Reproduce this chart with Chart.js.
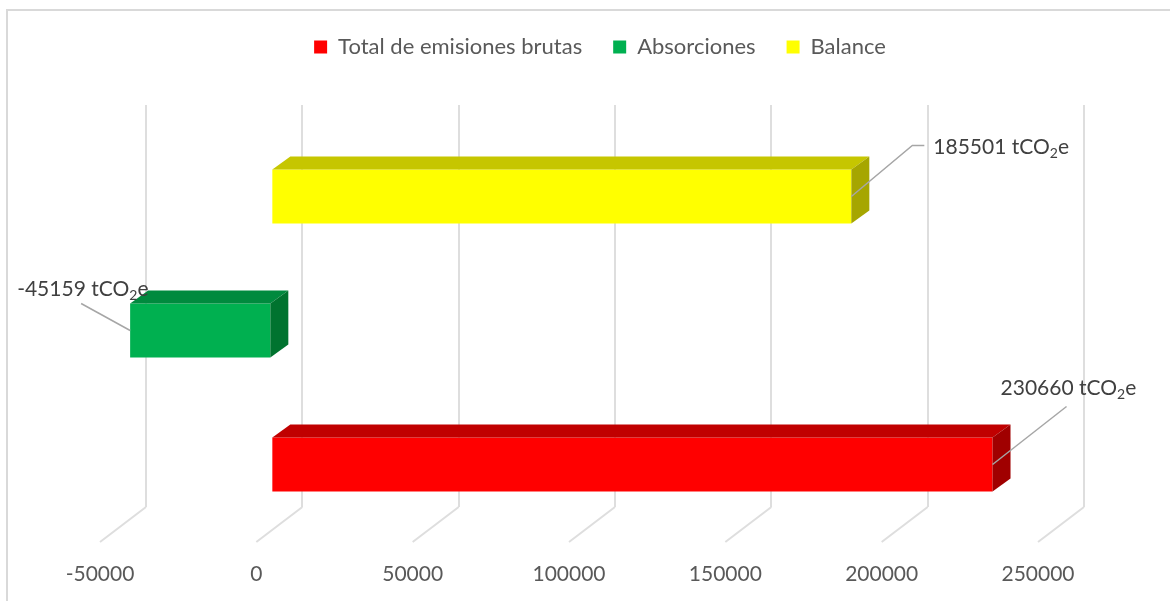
<!DOCTYPE html>
<html>
<head>
<meta charset="utf-8">
<script src="https://cdn.jsdelivr.net/npm/chart.js@4.4.1/dist/chart.umd.min.js"></script>
<style>
  html, body { margin: 0; padding: 0; background: #fff; }
  #wrap { width: 1170px; height: 601px; position: relative; }
</style>
</head>
<body>
<div id="wrap"><canvas id="chart"></canvas></div>
<script>
const seriesNames = ['Total de emisiones brutas', 'Absorciones', 'Balance'];
const seriesValues = [230660, -45159, 185501];
const tickValues = [-50000, 0, 50000, 100000, 150000, 200000, 250000];
const unitMain = 'tCO';
const unitSub = '2';
const unitEnd = 'e';

const frontColors = ['#ff0000', '#00b050', '#ffff00'];
const topColors = ['#c00000', '#008a3e', '#c6c600'];
const sideColors = ['#a00000', '#00732f', '#a6a600'];

// fake 3D: bars sit in front of the back wall, floor lines run to the front edge
const front = { dx: -31, dy: 24.5 };
const depth = { dx: 18, dy: -13 };
const floor = { dx: -46, dy: 35 };

// label placement relative to the bar end (leader points, text left/middle)
const labelPos = [
    { leader: [[74, -58]], text: [8, -76] },
    { leader: [[-49, -27]], text: [-113, -41] },
    { leader: [[61, -51], [73, -51]], text: [82, -49] }
];

const labelFont = '21px Lato';
const subFont = '14px Lato';

function drawValueLabel(ctx, x, y, value) {
    const main = value + ' ' + unitMain;
    ctx.fillStyle = '#404040';
    ctx.textAlign = 'left';
    ctx.textBaseline = 'middle';
    ctx.font = labelFont;
    ctx.fillText(main, x, y);
    let w = ctx.measureText(main).width;
    ctx.font = subFont;
    ctx.fillText(unitSub, x + w, y + 6);
    w += ctx.measureText(unitSub).width;
    ctx.font = labelFont;
    ctx.fillText(unitEnd, x + w, y);
}

// push the chart area down below the legend
const legendGap = {
    id: 'legendGap',
    beforeInit(chart) {
        const fit = chart.legend.fit;
        chart.legend.fit = function () {
            fit.call(this);
            this.height += 37;
        };
    }
};

const frame = {
    id: 'frame',
    beforeDraw(chart) {
        const ctx = chart.ctx;
        ctx.save();
        ctx.strokeStyle = '#d9d9d9';
        ctx.lineWidth = 2;
        ctx.strokeRect(7, 10, 1200, 700);
        ctx.restore();
    }
};

const bars3d = {
    id: 'bars3d',
    beforeDatasetsDraw(chart) {
        const ctx = chart.ctx;
        const xs = chart.scales.x;
        const bottom = chart.chartArea.bottom;
        // floor lines
        ctx.save();
        ctx.strokeStyle = '#dedede';
        ctx.lineWidth = 2;
        xs.ticks.forEach((t) => {
            const px = xs.getPixelForValue(t.value);
            ctx.beginPath();
            ctx.moveTo(px, bottom);
            ctx.lineTo(px + floor.dx, bottom + floor.dy);
            ctx.stroke();
        });
        ctx.restore();
        ctx.save();
        ctx.translate(front.dx, front.dy);
    },
    afterDatasetsDraw(chart) {
        const ctx = chart.ctx;
        const ends = [];
        chart.data.datasets.forEach((ds, i) => {
            const bar = chart.getDatasetMeta(i).data[0];
            const s = ds.seriesIndex;
            const left = Math.min(bar.x, bar.base);
            const right = Math.max(bar.x, bar.base);
            const top = bar.y - bar.height / 2;
            const bottom = bar.y + bar.height / 2;

            ctx.fillStyle = topColors[s];
            ctx.beginPath();
            ctx.moveTo(left, top);
            ctx.lineTo(left + depth.dx, top + depth.dy);
            ctx.lineTo(right + depth.dx, top + depth.dy);
            ctx.lineTo(right, top);
            ctx.closePath();
            ctx.fill();

            ctx.fillStyle = sideColors[s];
            ctx.beginPath();
            ctx.moveTo(right, top);
            ctx.lineTo(right + depth.dx, top + depth.dy);
            ctx.lineTo(right + depth.dx, bottom + depth.dy);
            ctx.lineTo(right, bottom);
            ctx.closePath();
            ctx.fill();

            ends[s] = { x: bar.x + front.dx, y: bar.y + front.dy };
        });
        ctx.restore();

        // data labels with leader lines
        ctx.save();
        seriesValues.forEach((v, s) => {
            const e = ends[s];
            const pos = labelPos[s];
            ctx.strokeStyle = '#a6a6a6';
            ctx.lineWidth = 1.5;
            ctx.beginPath();
            ctx.moveTo(e.x, e.y);
            pos.leader.forEach((p) => ctx.lineTo(e.x + p[0], e.y + p[1]));
            ctx.stroke();
            drawValueLabel(ctx, e.x + pos.text[0], e.y + pos.text[1], v);
        });
        ctx.restore();
    }
};

// top-to-bottom order on screen is Balance, Absorciones, Total
const datasets = seriesNames.map((name, i) => ({
    label: name,
    data: [seriesValues[i]],
    seriesIndex: i,
    backgroundColor: frontColors[i],
    borderWidth: 0
})).reverse();

new Chart(document.getElementById('chart'), {
    type: 'bar',
    data: {
        labels: [''],
        datasets: datasets
    },
    options: {
        indexAxis: 'y',
        responsive: true,
        maintainAspectRatio: false,
        animation: false,
        categoryPercentage: 1,
        barPercentage: 0.403,
        layout: {
            padding: { top: 5, left: 116, right: 86, bottom: 14 }
        },
        scales: {
            x: {
                type: 'linear',
                min: tickValues[0],
                max: tickValues[tickValues.length - 1],
                ticks: {
                    stepSize: tickValues[1] - tickValues[0],
                    callback: (v) => String(v),
                    color: '#595959',
                    font: { family: 'Lato', size: 21 },
                    labelOffset: floor.dx,
                    padding: 55,
                    maxRotation: 0
                },
                grid: {
                    color: '#dedede',
                    lineWidth: 2,
                    drawTicks: false
                },
                border: { display: false },
                afterFit: (scale) => {
                    scale.height = 80;
                    scale.paddingLeft = 0;
                    scale.paddingRight = 0;
                }
            },
            y: {
                ticks: { display: false },
                grid: { display: false },
                border: { display: false },
                afterFit: (scale) => { scale.width = 30; }
            }
        },
        plugins: {
            legend: {
                position: 'top',
                reverse: true,
                labels: {
                    boxWidth: 13,
                    boxHeight: 13,
                    padding: 31,
                    color: '#595959',
                    font: { family: 'Lato', size: 22 }
                }
            },
            tooltip: { enabled: false }
        }
    },
    plugins: [legendGap, frame, bars3d]
});
</script>
</body>
</html>
